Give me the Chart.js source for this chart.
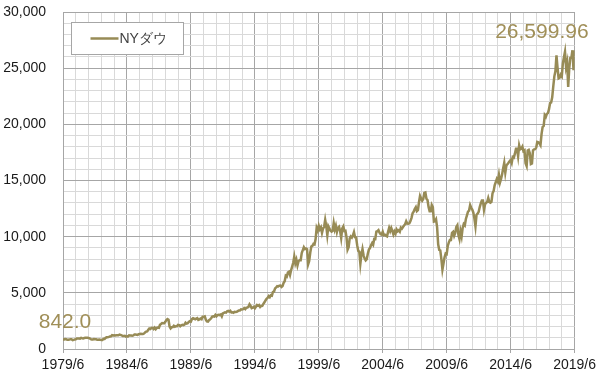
<!DOCTYPE html>
<html><head><meta charset="utf-8">
<script src="https://cdn.jsdelivr.net/npm/chart.js@4/dist/chart.umd.min.js"></script>
<style>html,body{margin:0;padding:0;background:#fff}#wrap{width:600px;height:376px}</style>
</head><body><div id="wrap"><canvas id="c" width="600" height="376"></canvas></div>
<script>
const seriesName = 'NYダウ';
const xTickLabels = ['1979/6','1984/6','1989/6','1994/6','1999/6','2004/6','2009/6','2014/6','2019/6'];
const yTickValues = [0,5000,10000,15000,20000,25000,30000];
// Monthly closes, 1979/6 .. 2019/6
const dow1979 = [841.98,846,888,878,816,822,839];
const dow1980 = [876,863,786,817,851,868,935,933,932,925,993,964];
const dow1981 = [947,975,1004,998,992,977,953,882,850,853,889,875];
const dow1982 = [871,824,823,848,820,812,809,901,896,992,1039,1047];
const dow1983 = [1076,1113,1130,1226,1200,1222,1199,1216,1233,1225,1276,1259];
const dow1984 = [1221,1155,1165,1171,1105,1132,1115,1224,1207,1207,1189,1212];
const dow1985 = [1287,1284,1267,1258,1316,1336,1348,1334,1329,1375,1472,1547];
const dow1986 = [1571,1709,1819,1784,1877,1893,1775,1898,1768,1878,1914,1896];
const dow1987 = [2158,2224,2305,2286,2292,2419,2572,2663,2596,1994,1834,1939];
const dow1988 = [1958,2072,1988,2033,2031,2142,2129,2032,2113,2149,2115,2169];
const dow1989 = [2342,2258,2294,2419,2480,2440,2661,2737,2693,2645,2706,2753];
const dow1990 = [2591,2627,2707,2657,2877,2881,2905,2614,2453,2442,2560,2634];
const dow1991 = [2736,2882,2914,2888,3028,2907,3025,3044,3017,3069,2895,3169];
const dow1992 = [3224,3267,3236,3359,3397,3319,3394,3257,3272,3226,3306,3301];
const dow1993 = [3310,3371,3435,3428,3527,3516,3540,3651,3555,3681,3684,3754];
const dow1994 = [3978,3832,3636,3682,3758,3625,3765,3913,3843,3908,3739,3834];
const dow1995 = [3844,4011,4158,4321,4465,4556,4709,4611,4789,4756,5075,5117];
const dow1996 = [5395,5486,5588,5569,5643,5655,5529,5616,5882,6029,6522,6448];
const dow1997 = [6813,6878,6584,7009,7331,7673,8223,7622,7945,7442,7823,7908];
const dow1998 = [7907,8546,8800,9063,8900,8952,8883,7539,7843,8592,9117,9181];
const dow1999 = [9359,9307,9786,10789,10560,10971,10655,10829,10337,10730,10878,11497];
const dow2000 = [10941,10128,10922,10734,10522,10448,10522,11215,10651,10971,10415,10788];
const dow2001 = [10887,10495,9879,10735,10912,10502,10523,9950,8848,9075,9852,10022];
const dow2002 = [9920,10106,10404,9946,9925,9243,8737,8664,7592,8397,8896,8342];
const dow2003 = [8054,7891,7992,8480,8850,8985,9234,9416,9275,9801,9782,10454];
const dow2004 = [10488,10584,10358,10226,10188,10435,10140,10174,10080,10027,10428,10783];
const dow2005 = [10490,10766,10504,10193,10467,10275,10641,10482,10569,10440,10806,10718];
const dow2006 = [10865,10993,11109,11367,11168,11150,11186,11381,11679,12081,12222,12463];
const dow2007 = [12622,12269,12354,13063,13628,13409,13212,13358,13896,13930,13372,13265];
const dow2008 = [12650,12266,12263,12820,12638,11350,11378,11544,10851,9325,8829,8776];
const dow2009 = [8001,7063,7609,8168,8500,8447,9172,9496,9712,9713,10345,10428];
const dow2010 = [10067,10325,10857,11009,10137,9774,10466,10015,10788,11118,11006,11578];
const dow2011 = [11892,12226,12320,12811,12570,12414,12143,11614,10913,11955,12046,12218];
const dow2012 = [12633,12952,13212,13214,12393,12880,13009,13091,13437,13096,13026,13104];
const dow2013 = [13861,14054,14579,14840,15116,14910,15500,14810,15130,15546,16086,16577];
const dow2014 = [15699,16322,16458,16581,16717,16827,16563,17098,17043,17391,17828,17823];
const dow2015 = [17165,18133,17776,17841,18011,17620,17690,16528,16285,17664,17720,17425];
const dow2016 = [16466,16517,17685,17774,17787,17930,18432,18401,18308,18142,19124,19763];
const dow2017 = [19864,20812,20663,20941,21009,21350,21891,21948,22405,23377,24272,24719];
const dow2018 = [26149,25029,24103,24163,24416,24271,25415,25965,26458,25116,25538,23327];
const dow2019 = [24999,25916,25929,26593,24815,26599.96];

const dowValues = [].concat(dow1979,dow1980,dow1981,dow1982,dow1983,dow1984,dow1985,dow1986,dow1987,dow1988,
  dow1989,dow1990,dow1991,dow1992,dow1993,dow1994,dow1995,dow1996,dow1997,dow1998,dow1999,dow2000,dow2001,
  dow2002,dow2003,dow2004,dow2005,dow2006,dow2007,dow2008,dow2009,dow2010,dow2011,dow2012,dow2013,dow2014,
  dow2015,dow2016,dow2017,dow2018,dow2019);

const LINE = '#978b56';
const TEXTC = '#a08f58';
const MAJOR = '#a6a6a6';
const MINOR = '#d9d9d9';
const FONT = '"Liberation Sans", Arial, sans-serif';

const endLabels = {
  id: 'endLabels',
  afterDatasetsDraw(chart) {
    const pts = chart.getDatasetMeta(0).data;
    const first = pts[0], last = pts[pts.length - 1];
    const ctx = chart.ctx;
    ctx.save();
    ctx.fillStyle = TEXTC;
    ctx.font = '21px ' + FONT;
    ctx.textBaseline = 'middle';
    ctx.textAlign = 'center';
    ctx.fillText(dowValues[0].toFixed(1), first.x + 2, first.y - 17);
    ctx.textAlign = 'right';
    const lv = dowValues[dowValues.length - 1];
    ctx.fillText(lv.toLocaleString('en-US', {minimumFractionDigits: 2, maximumFractionDigits: 2}), last.x + 14, last.y - 18);
    // legend box
    const bx = chart.chartArea.left + 8.5, by = chart.chartArea.top + 10.5, bw = 112, bh = 32;
    ctx.fillStyle = '#fff';
    ctx.fillRect(bx, by, bw, bh);
    ctx.strokeStyle = '#a6a6a6';
    ctx.lineWidth = 1;
    ctx.strokeRect(bx, by, bw, bh);
    ctx.strokeStyle = LINE;
    ctx.lineWidth = 2.5;
    ctx.beginPath();
    ctx.moveTo(bx + 19, by + bh / 2);
    ctx.lineTo(bx + 47, by + bh / 2);
    ctx.stroke();
    ctx.fillStyle = '#404040';
    ctx.font = '14px ' + FONT;
    ctx.textAlign = 'left';
    ctx.fillText(seriesName, bx + 48, by + bh / 2 + 1);
    ctx.restore();
  }
};

new Chart(document.getElementById('c'), {
  type: 'line',
  data: {
    datasets: [{
      label: seriesName,
      data: dowValues.map((v, i) => ({x: i, y: v})),
      borderColor: LINE,
      borderWidth: 2.5,
      pointRadius: 0,
      tension: 0,
      fill: false
    }]
  },
  options: {
    responsive: false,
    animation: false,
    layout: {padding: {top: 12, right: 25, left: 0, bottom: 0}},
    plugins: {legend: {display: false}, tooltip: {enabled: false}},
    scales: {
      x: {
        type: 'linear', min: 0, max: 480,
        afterFit: s => { s.height = 27; },
        grid: {
          color: c => (c.tick && c.tick.value % 60 === 0) ? MAJOR : MINOR,
          tickColor: c => (c.tick && c.tick.value % 60 === 0) ? MAJOR : 'rgba(0,0,0,0)',
          tickLength: 4, lineWidth: 1
        },
        border: {color: MAJOR},
        ticks: {
          stepSize: 12, autoSkip: false, maxRotation: 0, padding: 4,
          color: '#1a1a1a', font: {family: FONT, size: 14},
          callback: v => v % 60 === 0 ? xTickLabels[v / 60] : ''
        }
      },
      y: {
        min: 0, max: 30000,
        afterFit: s => { s.width = 63; },
        grid: {
          color: c => (c.tick && c.tick.value % 5000 === 0) ? MAJOR : MINOR,
          drawTicks: true, tickLength: 17, tickColor: 'rgba(0,0,0,0)', lineWidth: 1
        },
        border: {color: MAJOR},
        ticks: {
          stepSize: 1000, autoSkip: false, padding: 0,
          color: '#1a1a1a', font: {family: FONT, size: 14},
          callback: v => yTickValues.includes(v) ? v.toLocaleString('en-US') : ''
        }
      }
    }
  },
  plugins: [endLabels]
});
</script>
</body></html>
